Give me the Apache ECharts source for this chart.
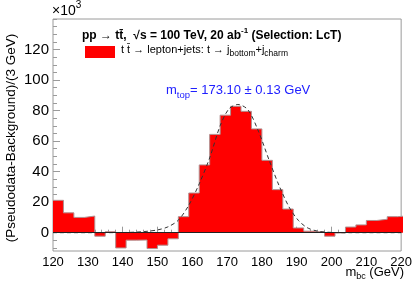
<!DOCTYPE html>
<html>
<head>
<meta charset="utf-8">
<script src="https://cdn.jsdelivr.net/npm/echarts@6/dist/echarts.min.js"></script>
<style>
  body, html { margin: 0; padding: 0; background: #fff; }
  #chart { width: 415px; height: 289px; }
</style>
</head>
<body>
<div id="chart"></div>
<script>
// histogram bins (3 GeV wide), values in units of 10^3
const binStart = [120, 123, 126, 129, 132, 135, 138, 141, 144, 147, 150, 153, 156, 159, 162, 165, 168,
  171, 174, 177, 180, 183, 186, 189, 192, 195, 198, 201, 204, 207, 210, 213, 216, 219];
const binValue = [21.2, 13, 10, 10.9, -2.3, 0.6, -10, -4.9, -4.8, -10.4, -8.2, -4, 10.5, 26, 44.4, 64.4, 77,
  82.8, 79.5, 68, 47.4, 28.2, 15.5, 3.1, 1, 0.3, -2.3, -0.2, 3.7, 5.1, 8, 8.8, 10.5, 11];
const binWidth = 3;

// fitted curve
const fitMass = [120, 130, 140, 144, 147, 150, 153, 156, 159, 162, 165, 168, 170.5, 173.1, 176, 179,
  182, 185, 188, 190.5, 193, 196, 199, 202, 205, 220];
const fitValue = [0, 0, 0.1, 0.4, 0.9, 1.8, 3.8, 8.2, 18, 32, 49, 70, 81, 84, 80.5, 66.5,
  48, 30.5, 16, 8, 3.3, 1, 0.3, 0.05, 0, 0];

// axis ticks
const xMajor = [120, 130, 140, 150, 160, 170, 180, 190, 200, 210, 220];
const xMinor = [122, 124, 126, 128, 132, 134, 136, 138, 142, 144, 146, 148, 152, 154, 156, 158,
  162, 164, 166, 168, 172, 174, 176, 178, 182, 184, 186, 188, 192, 194, 196, 198,
  202, 204, 206, 208, 212, 214, 216, 218];
const yMajor = [0, 20, 40, 60, 80, 100, 120];
const yMinor = [-10, -5, 5, 10, 15, 25, 30, 35, 45, 50, 55, 65, 70, 75, 85, 90, 95,
  105, 110, 115, 125, 130, 135, 140];

const FONT = "Liberation Sans, Arial, Helvetica, sans-serif";
const frameColor = "#9a9a9a";

let histData = binStart.map((x, i) => [x, binValue[i]]);
histData.push([binStart[binStart.length - 1] + binWidth, binValue[binValue.length - 1]]);
let fitData = fitMass.map((x, i) => [x, fitValue[i]]);

let chart = echarts.init(document.getElementById("chart"), null, { renderer: "canvas" });

let option = {
  animation: false,
  backgroundColor: "#fff",
  grid: {
    left: 53, top: 19, width: 351, height: 232,
    show: true, borderColor: frameColor, borderWidth: 1, backgroundColor: "transparent"
  },
  xAxis: [
    {
      type: "value", min: 120, max: 220, position: "bottom",
      axisLine: { show: false },
      splitLine: { show: false },
      axisTick: { inside: true, length: 6, customValues: xMajor, lineStyle: { color: frameColor } },
      axisLabel: { customValues: xMajor, fontSize: 13, fontFamily: FONT, color: "#000", margin: 5 }
    },
    {
      type: "value", min: 120, max: 220, position: "bottom",
      axisLine: { show: false },
      splitLine: { show: false },
      axisTick: { inside: true, length: 3, customValues: xMinor, lineStyle: { color: frameColor } },
      axisLabel: { show: false }
    }
  ],
  yAxis: [
    {
      type: "value", min: -12, max: 140, position: "left",
      axisLine: { show: false },
      splitLine: { show: false },
      axisTick: { inside: true, length: 7, customValues: yMajor, lineStyle: { color: frameColor } },
      axisLabel: { customValues: yMajor, fontSize: 15, fontFamily: FONT, color: "#000", margin: 4 }
    },
    {
      type: "value", min: -12, max: 140, position: "left",
      axisLine: { show: false },
      splitLine: { show: false },
      axisTick: { inside: true, length: 4, customValues: yMinor, lineStyle: { color: frameColor } },
      axisLabel: { show: false }
    }
  ],
  series: [
    {
      type: "line",
      data: histData,
      step: "end",
      showSymbol: false,
      lineStyle: { color: "#b09090", width: 1 },
      areaStyle: { color: "#ff0000", opacity: 1 },
      z: 2,
      markLine: {
        silent: true,
        symbol: "none",
        label: { show: false },
        lineStyle: { color: "#222", width: 1, type: "solid" },
        data: [{ yAxis: 0 }]
      }
    },
    {
      type: "line",
      data: fitData,
      smooth: 0.3,
      showSymbol: false,
      lineStyle: { color: "#333", width: 1, type: [4, 3] },
      z: 3
    }
  ],
  graphic: [
    {
      type: "text", left: 52, top: 0,
      style: {
        text: "{m|\u00d710}{sup|3}",
        rich: {
          m: { fontSize: 14, fontFamily: FONT, fill: "#000", lineHeight: 18, verticalAlign: "bottom" },
          sup: { fontSize: 10, fontFamily: FONT, fill: "#000", lineHeight: 10, verticalAlign: "top" }
        }
      }
    },
    {
      type: "text", left: 82, top: 27,
      style: {
        text: "{b|pp \u2192 tt\u0304,  \u221as = 100 TeV, 20 ab}{sup|-1}{b| (Selection: LcT)}",
        rich: {
          b: { fontSize: 12, fontWeight: "bold", fontFamily: FONT, fill: "#000", lineHeight: 18, verticalAlign: "middle" },
          sup: { fontSize: 8, fontWeight: "bold", fontFamily: FONT, fill: "#000", lineHeight: 8, verticalAlign: "top" }
        }
      }
    },
    {
      type: "rect",
      shape: { x: 85, y: 46, width: 30, height: 12 },
      style: { fill: "#ff0000" }
    },
    {
      type: "text", left: 121, top: 44,
      style: {
        text: "{n|t t\u0304 \u2192 lepton+jets: t \u2192 j}{s|bottom}{n|+j}{s|charm}",
        rich: {
          n: { fontSize: 11, fontFamily: FONT, fill: "#000", lineHeight: 17, verticalAlign: "middle" },
          s: { fontSize: 8.5, fontFamily: FONT, fill: "#000", lineHeight: 8.5, verticalAlign: "bottom" }
        }
      }
    },
    {
      type: "text", left: 166, top: 84,
      style: {
        text: "{n|m}{s|top}{n|= 173.10 \u00b1 0.13 GeV}",
        rich: {
          n: { fontSize: 13, fontFamily: FONT, fill: "#2020ff", lineHeight: 19, verticalAlign: "middle" },
          s: { fontSize: 9.5, fontFamily: FONT, fill: "#2020ff", lineHeight: 9.5, verticalAlign: "bottom" }
        }
      }
    },
    {
      type: "text", right: 11, top: 266,
      style: {
        text: "{n|m}{s|bc}{n| (GeV)}",
        rich: {
          n: { fontSize: 13, fontFamily: FONT, fill: "#000", lineHeight: 18, verticalAlign: "middle" },
          s: { fontSize: 9, fontFamily: FONT, fill: "#000", lineHeight: 9, verticalAlign: "bottom" }
        }
      }
    },
    {
      type: "text",
      x: 11, y: 138,
      rotation: Math.PI / 2,
      style: {
        text: "(Pseudodata-Background)/(3 GeV)",
        fontSize: 13.5, fontFamily: FONT, fill: "#000",
        align: "center", verticalAlign: "middle"
      }
    }
  ]
};

chart.setOption(option);
</script>
</body>
</html>
